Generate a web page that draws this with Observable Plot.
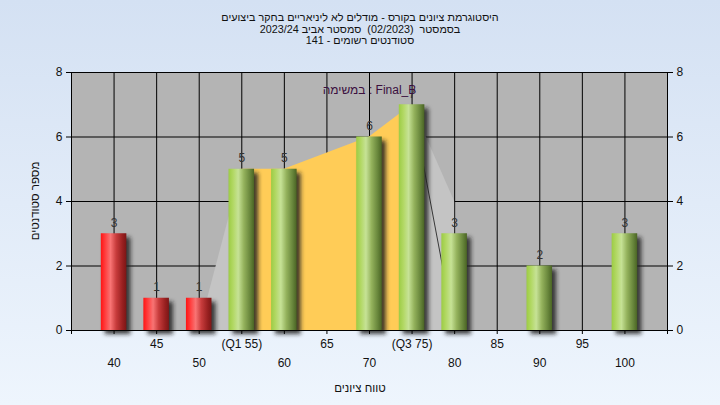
<!DOCTYPE html>
<html><head><meta charset="utf-8">
<script src="https://cdn.jsdelivr.net/npm/d3@7"></script>
<script src="https://cdn.jsdelivr.net/npm/@observablehq/plot@0.6"></script>
<style>
html,body{margin:0;padding:0;}
body{position:relative;width:720px;height:405px;overflow:hidden;background:linear-gradient(#d4e1f3,#eef5fd);font-family:"Liberation Sans","DejaVu Sans",sans-serif;color:#111;}
#title{height:55px;box-sizing:border-box;padding-top:12px;font-size:10.8px;line-height:11.5px;text-align:center;direction:rtl;}
#xtitle{height:30px;box-sizing:border-box;padding-top:6px;font-size:11.5px;line-height:14px;text-align:center;direction:rtl;}
#ytitle{position:absolute;left:35px;top:201px;transform:translate(-50%,-50%) rotate(-90deg);white-space:nowrap;font-size:11.5px;line-height:14px;direction:rtl;}
#title div{white-space:pre;}
#chart svg{display:block;}
</style></head><body>
<div id="title"></div><div id="chart"></div><div id="xtitle"></div><div id="ytitle"></div>
<script>
// ---- data ----
const titleLines = [
  "היסטוגרמת ציונים בקורס - מודלים לא ליניאריים בחקר ביצועים",
  "בסמסטר  (02/2023)  סמסטר אביב 2023/24",
  "סטודנטים רשומים - 141"
];
const xTitle = "טווח ציונים";
const yTitle = "מספר סטודנטים";
const annotation = "במשימה : Final_B";

const scores = [40, 45, 50, 55, 60, 65, 70, 75, 80, 85, 90, 95, 100];
const counts = [3, 1, 1, 5, 5, 0, 6, 7, 3, 0, 2, 0, 3];
const q1 = 55, q3 = 75;
const redBelow = 55;

const areaScores = [50, 55, 60, 70, 75, 80];
const areaCounts = [0, 5, 5, 6, 7, 4];
const lineScores = [75, 80];
const lineCounts = [7, 0];

const xDomain = [35, 105];
const yDomain = [0, 8];
const yTicks = [0, 2, 4, 6, 8];
const gridCounts = [2, 4, 6, 8];
const gridScores = [40, 45, 50, 55, 60, 65, 70, 75, 80, 85, 90, 95, 100];
const xTickMarks = [35, 40, 45, 50, 55, 60, 65, 70, 75, 80, 85, 90, 95, 100, 105];
const row1Scores = [45, 55, 65, 75, 85, 95];
const row1Labels = ["45", "(Q1 55)", "65", "(Q3 75)", "85", "95"];
const row2Scores = [40, 50, 60, 70, 80, 90, 100];
const row2Labels = ["40", "50", "60", "70", "80", "90", "100"];

// ---- titles ----
const titleEl = document.getElementById("title");
titleLines.forEach(l => { const d = document.createElement("div"); d.textContent = l; titleEl.appendChild(d); });
document.getElementById("xtitle").textContent = xTitle;
document.getElementById("ytitle").textContent = yTitle;

// ---- tables ----
const bars = scores.map((s, i) => ({score: s, count: counts[i]})).filter(d => d.count > 0);
const areaPts = areaScores.map((s, i) => ({score: s, count: areaCounts[i]}));
const iqrArea = areaPts.filter(d => d.score >= q1 && d.score <= q3);
const leftArea = areaPts.filter(d => d.score <= q1);
const rightArea = areaPts.filter(d => d.score >= q3);
const linePts = lineScores.map((s, i) => ({score: s, count: lineCounts[i]}));
const row1 = row1Scores.map((s, i) => ({score: s, label: row1Labels[i]}));
const row2 = row2Scores.map((s, i) => ({score: s, label: row2Labels[i]}));
const half = 1.5;

const svg = Plot.plot({
  width: 720, height: 320,
  marginTop: 17, marginBottom: 45, marginLeft: 71, marginRight: 53,
  x: {domain: xDomain, axis: null},
  y: {domain: yDomain, axis: null},
  style: {background: "transparent", fontFamily: "Liberation Sans, DejaVu Sans, sans-serif", fontSize: "12px", color: "#111", overflow: "visible"},
  marks: [
    Plot.frame({fill: "#b4b4b4", stroke: "none"}),
    Plot.ruleX(gridScores, {stroke: "#000", strokeWidth: 1}),
    Plot.ruleY(gridCounts, {stroke: "#000", strokeWidth: 1}),
    Plot.areaY(leftArea, {x: "score", y: "count", fill: "#c4c4c4"}),
    Plot.areaY(rightArea, {x: "score", y: "count", fill: "#c4c4c4"}),
    Plot.areaY(iqrArea, {x: "score", y: "count", fill: "#ffcc57"}),
    Plot.line(linePts, {x: "score", y: "count", stroke: "#383838", strokeWidth: 1}),
    Plot.rect(bars, {x1: d => d.score - half, x2: d => d.score + half, y1: 0, y2: "count", fill: "#1e1e1e", fillOpacity: 0.85, dx: 4, dy: 4, ariaDescription: "shadow"}),
    Plot.rect(bars.filter(d => d.score < redBelow), {x1: d => d.score - half, x2: d => d.score + half, y1: 0, y2: "count", fill: "url(#gRed)"}),
    Plot.rect(bars.filter(d => d.score >= redBelow), {x1: d => d.score - half, x2: d => d.score + half, y1: 0, y2: "count", fill: "url(#gGreen)"}),
    Plot.text(bars, {x: "score", y: "count", text: d => String(d.count), dy: -11, fill: "#333", fontSize: 12}),
    Plot.text([annotation], {frameAnchor: "top", dy: 13, fill: "#3b1040", fontSize: 12}),
    Plot.frame({stroke: "#000", fill: "none"}),
    Plot.axisY({anchor: "left", ticks: yTicks, tickSize: 5, tickPadding: 4, label: null, fill: "#111", stroke: "#000"}),
    Plot.axisY({anchor: "right", ticks: yTicks, tickSize: 5, tickPadding: 4, label: null, fill: "#111", stroke: "#000"}),
    Plot.axisX({anchor: "bottom", ticks: xTickMarks, tickSize: 4, tickFormat: () => "", label: null, stroke: "#000"}),
    Plot.text(row1, {x: "score", text: "label", frameAnchor: "bottom", dy: 17, fill: "#111"}),
    Plot.text(row2, {x: "score", text: "label", frameAnchor: "bottom", dy: 36, fill: "#111"})
  ]
});

// gradients and shadow blur
const s = d3.select(svg);
const defs = s.insert("defs", ":first-child");
function grad(id, stops) {
  const g = defs.append("linearGradient").attr("id", id).attr("x1", "0").attr("x2", "1").attr("y1", "0").attr("y2", "0");
  stops.forEach(([o, c]) => g.append("stop").attr("offset", o).attr("stop-color", c));
}
grad("gRed", [["0", "#ff1414"], ["0.18", "#ff4040"], ["0.38", "#f87474"], ["0.6", "#c83c3c"], ["0.85", "#982020"], ["1", "#7c1616"]]);
grad("gGreen", [["0", "#9ccc44"], ["0.18", "#b2d864"], ["0.38", "#c6e296"], ["0.6", "#94b25c"], ["0.85", "#66843a"], ["1", "#4a6424"]]);
defs.append("filter").attr("id", "blurShadow").attr("x", "-50%").attr("y", "-20%").attr("width", "200%").attr("height", "140%")
  .append("feGaussianBlur").attr("stdDeviation", 2);
let sh = svg.querySelector('g[aria-description="shadow"]');
if (!sh) sh = svg.querySelector('g[fill="#1e1e1e"]');
if (sh) sh.setAttribute("filter", "url(#blurShadow)");

document.getElementById("chart").appendChild(svg);
</script>
</body></html>
